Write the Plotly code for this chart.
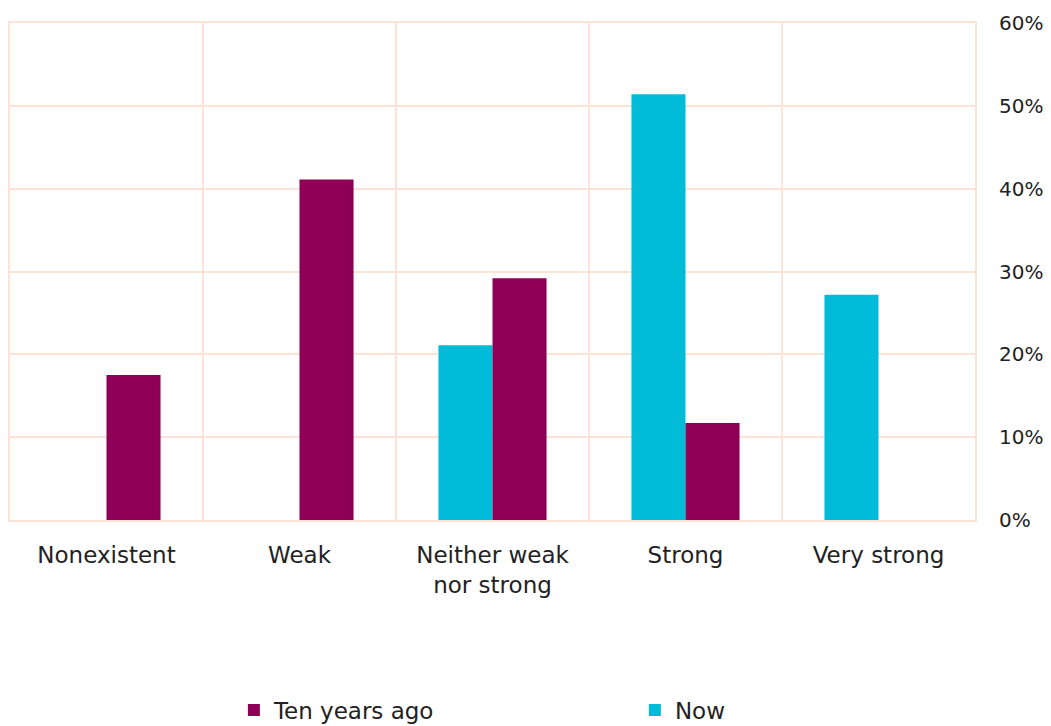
import plotly.graph_objects as go

categories = ["Nonexistent", "Weak", "Neither weak<br>nor strong", "Strong", "Very strong"]
now_values = [0, 0, 21.1, 51.4, 27.2]
ten_years_values = [17.5, 41.1, 29.2, 11.7, 0]
y_ticks = [0, 10, 20, 30, 40, 50, 60]
y_tick_labels = ["0%", "10%", "20%", "30%", "40%", "50%", "60%"]

MAROON = "#8e0057"
CYAN = "#00bcd8"
GRID = "#fde2d6"
FONT = "DejaVu Sans"

fig = go.Figure()
fig.add_trace(go.Bar(x=categories, y=now_values, name="Now", marker_color=CYAN,
                     marker_line_width=0, legendrank=2))
fig.add_trace(go.Bar(x=categories, y=ten_years_values, name="Ten years ago", marker_color=MAROON,
                     marker_line_width=0, legendrank=1))

fig.update_layout(
    width=1051, height=726,
    margin=dict(l=10, r=76, t=23, b=206, autoexpand=False),
    paper_bgcolor="white", plot_bgcolor="white",
    barmode="group", bargap=0.44, bargroupgap=0,
    font=dict(family=FONT, size=23, color="#222222"),
    showlegend=True,
    legend=dict(orientation="h", x=0.232, y=0.022, xref="paper", yref="container",
                xanchor="left", yanchor="middle",
                entrywidth=356, entrywidthmode="pixels",
                font=dict(family=FONT, size=23, color="#222222"),
                itemwidth=30, bgcolor="rgba(0,0,0,0)"),
)
fig.update_xaxes(type="category", tickson="boundaries", showgrid=True, gridcolor=GRID, gridwidth=2,
                 showline=True, linecolor=GRID, linewidth=2, mirror=True,
                 ticks="", ticklabelstandoff=13, tickfont=dict(size=23))
fig.update_yaxes(range=[0, 60], side="right", tickvals=y_ticks, ticktext=y_tick_labels,
                 showgrid=True, gridcolor=GRID, gridwidth=2, zeroline=False,
                 showline=True, linecolor=GRID, linewidth=2, mirror=True,
                 ticks="", ticklabelstandoff=18, tickfont=dict(size=20))

fig.write_html("out.html")
